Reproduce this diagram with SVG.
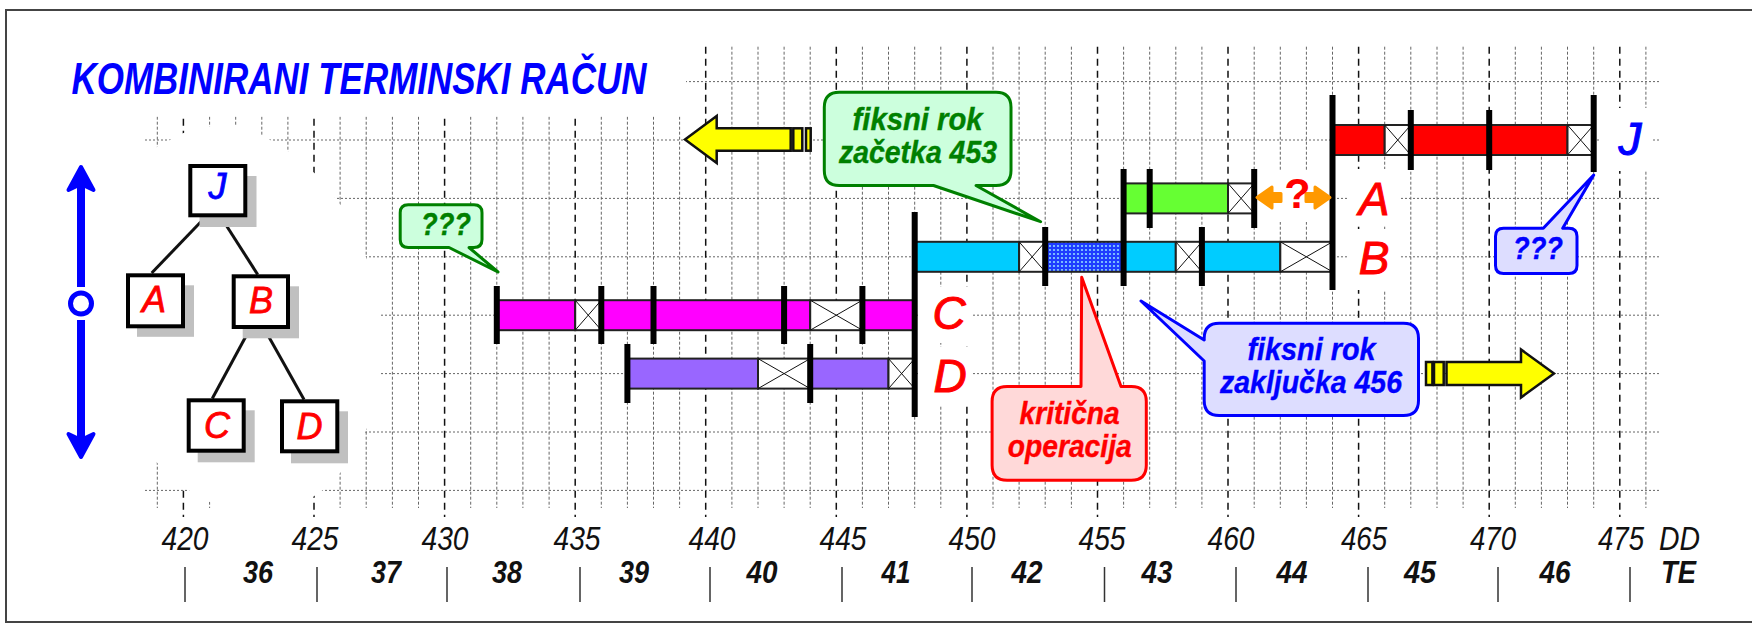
<svg xmlns="http://www.w3.org/2000/svg" width="1752" height="626" viewBox="0 0 1752 626">
<style>
.hg{fill:none;stroke:#666;stroke-width:1;stroke-dasharray:2 2}
.vmin{fill:none;stroke:#666;stroke-width:1;stroke-dasharray:3 2}
.vmaj{fill:none;stroke:#111;stroke-width:1.5;stroke-dasharray:7 5}
.seg{stroke:#222;stroke-width:2}
.cb{fill:#fff;stroke:#222;stroke-width:2}
.x{fill:none;stroke:#111;stroke-width:1}
.tick{fill:none;stroke:#000;stroke-width:6}
.bg{fill:#fff}
.tb{fill:#fff;stroke:#000;stroke-width:4}
.sh{fill:#C0C0C0}
.lbl{font-family:"Liberation Sans",Arial,sans-serif;font-style:italic;font-size:46px;text-anchor:middle;stroke-width:1}
.tl{font-family:"Liberation Sans",Arial,sans-serif;font-style:italic;font-size:36px;text-anchor:middle;fill:#FF0000;stroke:#FF0000;stroke-width:0.8}
.ct{font-family:"Liberation Sans",Arial,sans-serif;font-style:italic;font-weight:bold;font-size:32px;text-anchor:middle;stroke-width:0.4}
.num{font-family:"Liberation Sans",Arial,sans-serif;font-style:italic;font-size:34px;fill:#111;text-anchor:middle}
.wk{font-family:"Liberation Sans",Arial,sans-serif;font-style:italic;font-weight:bold;font-size:32px;fill:#111;text-anchor:middle}
.yel{fill:#FFFF00;stroke:#111;stroke-width:2.5;stroke-linejoin:miter}
.call{stroke-width:3;stroke-linejoin:round}
</style>
<defs>
<pattern id="dots" width="4" height="4" patternUnits="userSpaceOnUse"><rect width="4" height="4" fill="#1E3CFF"/><circle cx="2" cy="2" r="1.1" fill="#8FD8FF"/></pattern>
</defs>
<rect x="6" y="10" width="1760" height="612" fill="#fff" stroke="#444" stroke-width="2"/>

<g id="grid">
<path class="hg" d="M145 81.6H1661M145 140H1661M145 198.4H1661M145 256.8H1661M145 315.2H1661M145 373.6H1661M145 432H1661M145 490.4H1661"/>
<path class="vmin" d="M157.3 46.7V508M209.6 46.7V508M235.7 46.7V508M261.8 46.7V508M287.9 46.7V508M340.1 46.7V508M366.2 46.7V508M392.4 46.7V508M418.5 46.7V508M470.7 46.7V508M496.8 46.7V508M522.9 46.7V508M549.1 46.7V508M601.3 46.7V508M627.4 46.7V508M653.5 46.7V508M679.6 46.7V508M731.9 46.7V508M758 46.7V508M784.1 46.7V508M810.2 46.7V508M862.4 46.7V508M888.5 46.7V508M914.7 46.7V508M940.8 46.7V508M993 46.7V508M1019.1 46.7V508M1045.2 46.7V508M1071.4 46.7V508M1123.6 46.7V508M1149.7 46.7V508M1175.8 46.7V508M1201.9 46.7V508M1254.2 46.7V508M1280.3 46.7V508M1306.4 46.7V508M1332.5 46.7V508M1384.7 46.7V508M1410.8 46.7V508M1437 46.7V508M1463.1 46.7V508M1515.3 46.7V508M1541.4 46.7V508M1567.5 46.7V508M1593.7 46.7V508M1645.9 46.7V508"/>
<path class="vmaj" d="M183.4 46.7V517M314 46.7V517M444.6 46.7V517M575.2 46.7V517M705.7 46.7V517M836.3 46.7V517M966.9 46.7V517M1097.5 46.7V517M1228 46.7V517M1358.6 46.7V517M1489.2 46.7V517M1619.8 46.7V517"/>
</g>

<g id="occluders">
<rect class="bg" x="20" y="15" width="666" height="101.5"/>
<polygon class="bg" points="138,158 156,147.5 169,140.5 182,133.5 196,129 210,126.5 237,126 263,135.5 289,152 315,173.5 335,198 343,208.5 356,233 366,257 371,270 378,292 381,315 382,345 381,373 376,400 367,428 357,450 343,470 323,490 315,495.5 300,506 290,514 263,518 237,518 222,510 210,502 188,490 182,486.5 170,477 156,461.5 140,446 132,300"/>
</g>

<g id="title">
<text x="71.5" y="94" textLength="575" lengthAdjust="spacingAndGlyphs" font-family="Liberation Sans, Arial, sans-serif" font-style="italic" font-weight="bold" font-size="45" fill="#0000FF">KOMBINIRANI TERMINSKI RAČUN</text>
</g>

<g id="direction-arrow" fill="#0000FF" stroke="#0000FF">
<line x1="81" y1="287" x2="81" y2="186" stroke-width="8"/>
<path d="M81 167L93.5 190L81 184L68.5 190Z" stroke-width="4" stroke-linejoin="round"/>
<line x1="81" y1="320" x2="81" y2="438" stroke-width="8"/>
<path d="M81 457L93.5 434L81 440L68.5 434Z" stroke-width="4" stroke-linejoin="round"/>
<circle cx="81" cy="303.5" r="10.5" fill="#fff" stroke-width="5"/>
</g>

<g id="tree-connectors" stroke="#111" stroke-width="3">
<line x1="204.3" y1="218.3" x2="151.7" y2="273"/>
<line x1="221.7" y1="218.3" x2="257.7" y2="274.5"/>
<line x1="249.3" y1="330" x2="212.3" y2="398.5"/>
<line x1="265" y1="330" x2="304" y2="399.5"/>
</g>

<g id="tree-J">
<rect class="sh" x="199.5" y="176" width="57" height="51"/>
<rect class="tb" x="190.3" y="166" width="55" height="49.3"/>
<text class="tl" x="217.5" y="199.3" style="fill:#0000FF;stroke:#0000FF">J</text>
</g>
<g id="tree-A">
<rect class="sh" x="137" y="285.3" width="57" height="51.5"/>
<rect class="tb" x="128" y="275.3" width="55" height="51"/>
<text class="tl" x="154" y="312.3">A</text>
</g>
<g id="tree-B">
<rect class="sh" x="242.7" y="286.3" width="56.3" height="52"/>
<rect class="tb" x="233.7" y="276.3" width="54.3" height="50.7"/>
<text class="tl" x="261" y="313.3">B</text>
</g>
<g id="tree-C">
<rect class="sh" x="197.7" y="410.3" width="57" height="52"/>
<rect class="tb" x="188.7" y="400.3" width="55" height="50.4"/>
<text class="tl" x="217" y="438.3">C</text>
</g>
<g id="tree-D">
<rect class="sh" x="291" y="411.3" width="57" height="52"/>
<rect class="tb" x="282" y="401.3" width="55.3" height="50"/>
<text class="tl" x="309.5" y="439.3">D</text>
</g>

<g id="bar-J">
<rect class="seg" x="1332.5" y="125" width="52.2" height="30" fill="#FF0000"/>
<rect class="cb" x="1384.7" y="125" width="26.1" height="30"/>
<path class="x" d="M1384.7 125L1410.8 155M1410.8 125L1384.7 155"/>
<rect class="seg" x="1410.8" y="125" width="156.7" height="30" fill="#FF0000"/>
<rect class="cb" x="1567.5" y="125" width="26.2" height="30"/>
<path class="x" d="M1567.5 125L1593.7 155M1593.7 125L1567.5 155"/>
</g>
<g id="bar-A">
<rect class="seg" x="1123.6" y="183.4" width="104.4" height="30" fill="#66FF33"/>
<rect class="cb" x="1228" y="183.4" width="26.2" height="30"/>
<path class="x" d="M1228 183.4L1254.2 213.4M1254.2 183.4L1228 213.4"/>
</g>
<g id="bar-B">
<rect class="seg" x="914.7" y="241.8" width="104.4" height="30" fill="#00CCFF"/>
<rect class="cb" x="1019.1" y="241.8" width="26.1" height="30"/>
<path class="x" d="M1019.1 241.8L1045.2 271.8M1045.2 241.8L1019.1 271.8"/>
<rect class="seg" x="1045.2" y="241.8" width="78.4" height="30" fill="url(#dots)"/>
<rect class="seg" x="1123.6" y="241.8" width="52.2" height="30" fill="#00CCFF"/>
<rect class="cb" x="1175.8" y="241.8" width="26.1" height="30"/>
<path class="x" d="M1175.8 241.8L1201.9 271.8M1201.9 241.8L1175.8 271.8"/>
<rect class="seg" x="1201.9" y="241.8" width="78.4" height="30" fill="#00CCFF"/>
<rect class="cb" x="1280.3" y="241.8" width="52.2" height="30"/>
<path class="x" d="M1280.3 241.8L1332.5 271.8M1332.5 241.8L1280.3 271.8"/>
</g>
<g id="bar-C">
<rect class="seg" x="496.8" y="300.2" width="78.4" height="30" fill="#FF00FF"/>
<rect class="cb" x="575.2" y="300.2" width="26.1" height="30"/>
<path class="x" d="M575.2 300.2L601.3 330.2M601.3 300.2L575.2 330.2"/>
<rect class="seg" x="601.3" y="300.2" width="208.9" height="30" fill="#FF00FF"/>
<rect class="cb" x="810.2" y="300.2" width="52.2" height="30"/>
<path class="x" d="M810.2 300.2L862.4 330.2M862.4 300.2L810.2 330.2"/>
<rect class="seg" x="862.4" y="300.2" width="52.3" height="30" fill="#FF00FF"/>
</g>
<g id="bar-D">
<rect class="seg" x="627.4" y="358.6" width="130.6" height="30" fill="#9966FF"/>
<rect class="cb" x="758" y="358.6" width="52.2" height="30"/>
<path class="x" d="M758 358.6L810.2 388.6M810.2 358.6L758 388.6"/>
<rect class="seg" x="810.2" y="358.6" width="78.3" height="30" fill="#9966FF"/>
<rect class="cb" x="888.5" y="358.6" width="26.2" height="30"/>
<path class="x" d="M888.5 358.6L914.7 388.6M914.7 358.6L888.5 388.6"/>
</g>

<g id="connectors">
<path class="tick" d="M1332.5 95V290M1410.8 110V170M1489.2 110V170M1593.7 95V172M1123.6 169V228M1149.7 169V228M1254.2 169V228M914.7 212V417M1045.2 227V286M1123.6 227V286M1201.9 227V286M496.8 286V344M601.3 286V344M653.5 286V344M784.1 286V344M862.4 286V344M627.4 344V403M810.2 344V403"/>
</g>

<g id="labels">
<rect class="bg" x="1600" y="108" width="52" height="63"/>
<text class="lbl" x="1630" y="155" fill="#0000FF" stroke="#0000FF">J</text>
<rect class="bg" x="1348" y="169" width="53" height="57"/>
<text class="lbl" x="1374" y="215" fill="#FF0000" stroke="#FF0000">A</text>
<rect class="bg" x="1348" y="229" width="53" height="61"/>
<text class="lbl" x="1374" y="274" fill="#FF0000" stroke="#FF0000">B</text>
<rect class="bg" x="918" y="287" width="54" height="56"/>
<text class="lbl" x="949" y="329" fill="#FF0000" stroke="#FF0000">C</text>
<rect class="bg" x="918" y="347" width="54" height="58"/>
<text class="lbl" x="950" y="391.5" fill="#FF0000" stroke="#FF0000">D</text>
</g>

<g id="gap-question">
<rect class="bg" x="1260" y="171" width="68" height="51"/>
<polygon points="1257,197.5 1272,187 1272,193.5 1281,193.5 1281,201.5 1272,201.5 1272,208" fill="#FF9900" stroke="#FF9900" stroke-width="3" stroke-linejoin="round"/>
<polygon points="1330,197.5 1315,187 1315,193.5 1306,193.5 1306,201.5 1315,201.5 1315,208" fill="#FF9900" stroke="#FF9900" stroke-width="3" stroke-linejoin="round"/>
<text x="1297.4" y="208" text-anchor="middle" font-family="Liberation Sans, Arial, sans-serif" font-weight="bold" font-size="43" fill="#FF0000">?</text>
</g>

<g id="arrow-left">
<polygon class="yel" points="685,139.5 716.7,116 716.7,128.3 790.7,128.3 790.7,150.7 716.7,150.7 716.7,163"/>
<rect class="yel" x="793.3" y="128.3" width="9" height="22.4"/>
<rect class="yel" x="806" y="128.3" width="4.7" height="22.4"/>
</g>
<g id="arrow-right">
<polygon class="yel" points="1554,373.5 1521,349.5 1521,362 1446.5,362 1446.5,385 1521,385 1521,397.5"/>
<rect class="yel" x="1426" y="362" width="6.4" height="23"/>
<rect class="yel" x="1434" y="362" width="9.7" height="23"/>
</g>

<g id="callout-green-q">
<path class="call" fill="#CCFFDD" stroke="#008000" d="M408.2 204.8H474Q482 204.8 482 212.8V239.5Q482 247.5 474 247.5H469L498 272L449 247.5H408.2Q400.2 247.5 400.2 239.5V212.8Q400.2 204.8 408.2 204.8Z"/>
<text class="ct" x="446" y="235" fill="#008000" stroke="#008000" textLength="50" lengthAdjust="spacingAndGlyphs">???</text>
</g>
<g id="callout-start">
<path class="call" fill="#CCFFDD" stroke="#008000" d="M839.3 92.2H996Q1011 92.2 1011 107.2V170.5Q1011 185.5 996 185.5H976L1040.6 221.7L933.5 185.5H839.3Q824.3 185.5 824.3 170.5V107.2Q824.3 92.2 839.3 92.2Z"/>
<text class="ct" x="917.6" y="130" fill="#008000" stroke="#008000" textLength="130" lengthAdjust="spacingAndGlyphs">fiksni rok</text>
<text class="ct" x="918" y="163" fill="#008000" stroke="#008000" textLength="158" lengthAdjust="spacingAndGlyphs">začetka 453</text>
</g>
<g id="callout-critical">
<path class="call" fill="#FFD9D9" stroke="#FF0000" d="M1007.1 386.5H1081L1081.7 277.3L1121 386.5H1131.3Q1146.3 386.5 1146.3 401.5V465.2Q1146.3 480.2 1131.3 480.2H1007.1Q992.1 480.2 992.1 465.2V401.5Q992.1 386.5 1007.1 386.5Z"/>
<text class="ct" x="1069.6" y="424" fill="#FF0000" stroke="#FF0000" textLength="100" lengthAdjust="spacingAndGlyphs">kritična</text>
<text class="ct" x="1069.7" y="457" fill="#FF0000" stroke="#FF0000" textLength="124" lengthAdjust="spacingAndGlyphs">operacija</text>
</g>
<g id="callout-blue-q">
<path class="call" fill="#DDDDFF" stroke="#0000FF" d="M1503.5 228.2H1543.3L1593.7 175L1562.7 228.2H1569Q1577 228.2 1577 236.2V265.5Q1577 273.5 1569 273.5H1503.5Q1495.5 273.5 1495.5 265.5V236.2Q1495.5 228.2 1503.5 228.2Z"/>
<text class="ct" x="1538" y="259" fill="#0000FF" stroke="#0000FF" textLength="50" lengthAdjust="spacingAndGlyphs">???</text>
</g>
<g id="callout-end">
<path class="call" fill="#DDDDFF" stroke="#0000FF" d="M1219.2 323.2H1403.5Q1418.5 323.2 1418.5 338.2V400.5Q1418.5 415.5 1403.5 415.5H1219.2Q1204.2 415.5 1204.2 400.5V361L1141 301L1204.2 340V338.2Q1204.2 323.2 1219.2 323.2Z"/>
<text class="ct" x="1311.5" y="360" fill="#0000FF" stroke="#0000FF" textLength="128" lengthAdjust="spacingAndGlyphs">fiksni rok</text>
<text class="ct" x="1311" y="393" fill="#0000FF" stroke="#0000FF" textLength="182" lengthAdjust="spacingAndGlyphs">zaključka 456</text>
</g>

<g id="axis">
<g class="num">
<text x="185" y="550" textLength="47" lengthAdjust="spacingAndGlyphs">420</text>
<text x="315" y="550" textLength="47" lengthAdjust="spacingAndGlyphs">425</text>
<text x="445" y="550" textLength="47" lengthAdjust="spacingAndGlyphs">430</text>
<text x="577" y="550" textLength="47" lengthAdjust="spacingAndGlyphs">435</text>
<text x="712" y="550" textLength="47" lengthAdjust="spacingAndGlyphs">440</text>
<text x="843" y="550" textLength="47" lengthAdjust="spacingAndGlyphs">445</text>
<text x="972" y="550" textLength="47" lengthAdjust="spacingAndGlyphs">450</text>
<text x="1102" y="550" textLength="47" lengthAdjust="spacingAndGlyphs">455</text>
<text x="1231" y="550" textLength="47" lengthAdjust="spacingAndGlyphs">460</text>
<text x="1364" y="550" textLength="46" lengthAdjust="spacingAndGlyphs">465</text>
<text x="1493" y="550" textLength="46" lengthAdjust="spacingAndGlyphs">470</text>
<text x="1621" y="550" textLength="46" lengthAdjust="spacingAndGlyphs">475</text>
<text x="1679.5" y="550" textLength="41" lengthAdjust="spacingAndGlyphs">DD</text>
</g>
<g class="wk">
<text x="258" y="583" textLength="30" lengthAdjust="spacingAndGlyphs">36</text>
<text x="386" y="583" textLength="30" lengthAdjust="spacingAndGlyphs">37</text>
<text x="507" y="583" textLength="30" lengthAdjust="spacingAndGlyphs">38</text>
<text x="634" y="583" textLength="30" lengthAdjust="spacingAndGlyphs">39</text>
<text x="762" y="583" textLength="31" lengthAdjust="spacingAndGlyphs">40</text>
<text x="896" y="583" textLength="29" lengthAdjust="spacingAndGlyphs">41</text>
<text x="1027" y="583" textLength="31" lengthAdjust="spacingAndGlyphs">42</text>
<text x="1157" y="583" textLength="31" lengthAdjust="spacingAndGlyphs">43</text>
<text x="1292" y="583" textLength="31" lengthAdjust="spacingAndGlyphs">44</text>
<text x="1420" y="583" textLength="32" lengthAdjust="spacingAndGlyphs">45</text>
<text x="1555" y="583" textLength="31" lengthAdjust="spacingAndGlyphs">46</text>
<text x="1678.5" y="583" textLength="35" lengthAdjust="spacingAndGlyphs">TE</text>
</g>
<path d="M185 567V602M317 567V602M447 567V602M580 567V602M710 567V602M842 567V602M972 567V602M1104.5 567V602M1236 567V602M1368 567V602M1498 567V602M1630 567V602" stroke="#333" stroke-width="1.5" fill="none"/>
</g>
</svg>
